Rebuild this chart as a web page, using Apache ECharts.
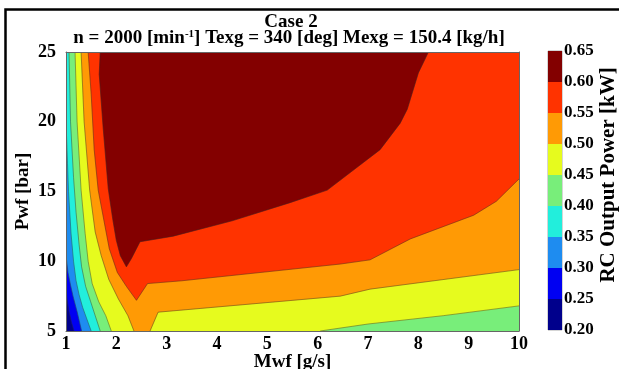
<!DOCTYPE html>
<html><head><meta charset="utf-8">
<script src="https://cdn.jsdelivr.net/npm/echarts@6/dist/echarts.min.js"></script>
<style>html,body{margin:0;padding:0;background:#fff}#c{width:619px;height:369px}</style>
</head><body><div id="c"></div>
<script>
// ---- data ----
const mwfTicks = [1, 2, 3, 4, 5, 6, 7, 8, 9, 10];
const pwfTicks = [5, 10, 15, 20, 25];
const levels = [0.20, 0.25, 0.30, 0.35, 0.40, 0.45, 0.50, 0.55, 0.60, 0.65];
const bandColors = ['#00008c', '#0000f2', '#1e8cf0', '#22eedc', '#78ee7a', '#e6fb1e', '#ff9a05', '#ff3300', '#830000'];

// contour lines [Mwf, Pwf]
const c025 = [[1, 8.0], [1.02, 7.3], [1.06, 6.4], [1.11, 5.6], [1.16, 5]];
const c030 = [[1, 10.4], [1.04, 9.2], [1.09, 8.3], [1.14, 7.5], [1.22, 6.4], [1.31, 5]];
const c035 = [[1, 20], [1.03, 17], [1.05, 15], [1.1, 12], [1.15, 10], [1.2, 8.6], [1.26, 7.6], [1.33, 6.7], [1.42, 5.8], [1.5, 5]];
const c040 = [[1.06, 25], [1.09, 20], [1.15, 16], [1.2, 13.5], [1.26, 11.2], [1.31, 9.6], [1.39, 8.2], [1.49, 7.1], [1.58, 6.1], [1.68, 5]];
const c045a = [[1.18, 25], [1.22, 20], [1.3, 15.1], [1.38, 12], [1.44, 10], [1.52, 8.4], [1.65, 7.1], [1.79, 6.1], [1.9, 5]];
const c045b = [[6.05, 5], [7, 5.5], [8.5, 6.1], [10, 6.8]];
const c050a = [[1.30, 25], [1.36, 20], [1.47, 15.1], [1.58, 12.1], [1.7, 10.4], [1.85, 8.7], [2.04, 7.3], [2.23, 6.1], [2.35, 5]];
const c050b = [[2.67, 5], [2.83, 6.35], [6.45, 7.5], [7.04, 8.0], [10, 9.4]];
const c055 = [[1.44, 25], [1.5, 22], [1.56, 18], [1.64, 15.1], [1.76, 12.8], [1.86, 10.9], [2.02, 9.2], [2.2, 8.2], [2.4, 7.2], [2.62, 8.4], [3.3, 8.6], [6.45, 9.8], [7.04, 10.1], [7.84, 11.6], [9.1, 13.3], [9.55, 14.3], [10, 15.9]];
const c060 = [[1.68, 25], [1.66, 23.4], [1.74, 19.5], [1.84, 15.2], [1.93, 13.0], [2.0, 11.5], [2.08, 10.4], [2.2, 9.6], [2.3, 10.2], [2.47, 11.4], [3.13, 11.8], [4.3, 12.9], [5.45, 14.2], [6.19, 15.1], [7.24, 18], [7.64, 19.9], [7.78, 20.9], [8.0, 23.5], [8.2, 25]];

// superlevel regions (z >= level), closed with the plot corners
const regions = [
  [[1, 5], [10, 5], [10, 25], [1, 25]],
  [...c025, [10, 5], [10, 25], [1, 25]],
  [...c030, [10, 5], [10, 25], [1, 25]],
  [...c035, [10, 5], [10, 25], [1, 25]],
  [...c040, [10, 5], [10, 25]],
  [...c045a, ...c045b, [10, 25]],
  [...c050a, ...c050b, [10, 25]],
  [...c055, [10, 25]],
  [...c060]
];
const contourLines = [c025, c030, c035, c040, c045a, c045b, c050a, c050b, c055, c060];

// ---- chart ----
const FONT = 'Liberation Serif';
const chart = echarts.init(document.getElementById('c'), null, {renderer: 'canvas'});
const lbl = {fontFamily: FONT, fontWeight: 'bold', fontSize: 18, color: '#000'};
const nameStyle = {fontFamily: FONT, fontWeight: 'bold', fontSize: 19, color: '#000'};

const option = {
  backgroundColor: '#fff',
  animation: false,
  graphic: [
    {type: 'rect', shape: {x: 5.5, y: 9.5, width: 700, height: 500}, style: {fill: 'none', stroke: '#000', lineWidth: 2.5}, z: 100},
    {type: 'text', x: 291, y: 22, style: {text: 'Case 2', textAlign: 'center', textVerticalAlign: 'middle', font: 'bold 19px "Liberation Serif"', fill: '#000'}},
    {type: 'text', x: 289, y: 38.5, style: {text: 'n = 2000 [min{sup|-1}] Texg = 340 [deg] Mexg = 150.4 [kg/h]', textAlign: 'center', textVerticalAlign: 'middle', font: 'bold 19px "Liberation Serif"', fill: '#000',
      rich: {sup: {fontFamily: FONT, fontWeight: 'bold', fontSize: 11, verticalAlign: 'top', padding: [0, 0, 8, 0]}}}},
    {type: 'text', x: 609, y: 175, rotation: Math.PI / 2, style: {text: 'RC Output Power [kW]', textAlign: 'center', textVerticalAlign: 'middle', font: 'bold 21px "Liberation Serif"', fill: '#000'}}
  ],
  grid: [
    {left: 66, right: 100, top: 52, bottom: 38, outerBoundsMode: 'none', containLabel: false},
    {left: 548, width: 14, top: 51, height: 279, show: true, borderColor: '#555', borderWidth: 0.5, backgroundColor: 'transparent', outerBoundsMode: 'none', containLabel: false}
  ],
  xAxis: [
    {gridIndex: 0, type: 'value', min: 1, max: 10, interval: 1, z: 10,
      axisLine: {show: true, lineStyle: {color: '#666', width: 1}}, axisTick: {show: false}, splitLine: {show: false},
      axisLabel: Object.assign({margin: 4}, lbl),
      name: 'Mwf [g/s]', nameLocation: 'middle', nameGap: 22, nameMoveOverlap: false, nameTextStyle: nameStyle},
    {gridIndex: 0, type: 'value', min: 1, max: 10, position: 'top', z: 10,
      axisLine: {show: true, lineStyle: {color: '#666', width: 1}}, axisTick: {show: false}, splitLine: {show: false}, axisLabel: {show: false}},
    {gridIndex: 1, type: 'value', min: 0, max: 1, show: false}
  ],
  yAxis: [
    {gridIndex: 0, type: 'value', min: 5, max: 25, interval: 5, z: 10,
      axisLine: {show: true, lineStyle: {color: '#666', width: 1}}, axisTick: {show: false}, splitLine: {show: false},
      axisLabel: Object.assign({margin: 10}, lbl),
      name: 'Pwf [bar]', nameLocation: 'middle', nameGap: 33, nameMoveOverlap: false, nameTextStyle: nameStyle},
    {gridIndex: 0, type: 'value', min: 5, max: 25, position: 'right', z: 10,
      axisLine: {show: true, lineStyle: {color: '#666', width: 1}}, axisTick: {show: false}, splitLine: {show: false}, axisLabel: {show: false}},
    {gridIndex: 1, type: 'value', min: 0.2, max: 0.65, interval: 0.05, position: 'right',
      axisLine: {show: false}, axisTick: {show: false}, splitLine: {show: false},
      axisLabel: Object.assign({margin: 2, showMinLabel: true, showMaxLabel: true, formatter: v => v.toFixed(2)}, lbl, {fontSize: 17})}
  ],
  series: [
    {
      type: 'custom', xAxisIndex: 0, yAxisIndex: 0, clip: true,
      data: regions.map((r, i) => [i]),
      encode: {x: -1, y: -1},
      renderItem: (params, api) => {
        const i = params.dataIndex;
        return {type: 'polygon', z2: i, shape: {points: regions[i].map(p => api.coord(p))}, style: {fill: bandColors[i], stroke: bandColors[i], lineWidth: 0.3}};
      }
    },
    {
      type: 'custom', xAxisIndex: 0, yAxisIndex: 0, clip: true, z: 3,
      data: contourLines.map((r, i) => [i]),
      encode: {x: -1, y: -1},
      renderItem: (params, api) => {
        const i = params.dataIndex;
        return {type: 'polyline', shape: {points: contourLines[i].map(p => api.coord(p))}, style: {fill: null, stroke: 'rgba(40,40,40,0.6)', lineWidth: 0.7}};
      }
    },
    {
      type: 'custom', xAxisIndex: 2, yAxisIndex: 2,
      data: bandColors.map((c, i) => [i]),
      encode: {x: -1, y: -1},
      renderItem: (params, api) => {
        const i = params.dataIndex;
        const a = api.coord([0, levels[i]]), b = api.coord([1, levels[i + 1]]);
        return {type: 'rect', shape: {x: a[0], y: b[1], width: b[0] - a[0], height: a[1] - b[1]}, style: {fill: bandColors[i]}};
      }
    }
  ]
};
chart.setOption(option);
</script></body></html>
